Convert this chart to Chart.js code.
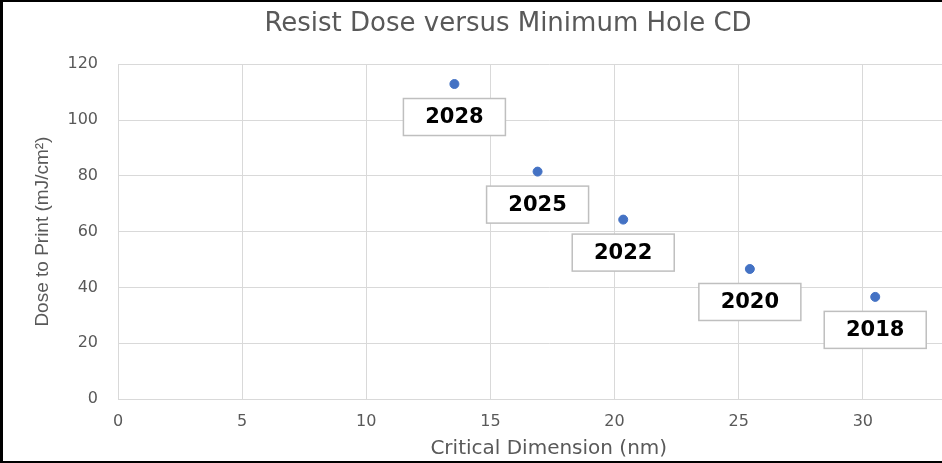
<!DOCTYPE html>
<html>
<head>
<meta charset="utf-8">
<script src="https://cdn.jsdelivr.net/npm/chart.js@4"></script>
<style>
  html, body { margin: 0; padding: 0; background: #fff; overflow: hidden; }
  #wrap {
    width: 939px; height: 459px; overflow: hidden;
    border-top: 2px solid #000; border-bottom: 2px solid #000; border-left: 3px solid #000;
    background: #fff;
  }
  canvas { display: block; }
</style>
</head>
<body>
<div id="wrap"><canvas id="myChart" width="982" height="459"></canvas></div>
<script>
const years = ['2028', '2025', '2022', '2020', '2018'];
const cdValues = [13.55, 16.9, 20.35, 25.45, 30.5];
const doseValues = [112.9, 81.5, 64.3, 46.6, 36.6];
const xTicks = [0, 5, 10, 15, 20, 25, 30];
const yTicks = [0, 20, 40, 60, 80, 100, 120];

const grey = '#595959';
const gridGrey = '#d9d9d9';

/* year labels in boxes under each point */
const yearBoxes = {
  id: 'yearBoxes',
  afterDatasetsDraw(chart) {
    const { ctx } = chart;
    const meta = chart.getDatasetMeta(0);
    ctx.save();
    ctx.font = 'bold 21px "DejaVu Sans"';
    ctx.textAlign = 'center';
    ctx.textBaseline = 'middle';
    meta.data.forEach((pt, i) => {
      const cx = pt.x;
      const cy = pt.y + 33;
      const w = 102, h = 37;
      ctx.fillStyle = '#fff';
      ctx.fillRect(cx - w / 2, cy - h / 2, w, h);
      ctx.strokeStyle = '#bfbfbf';
      ctx.lineWidth = 1.5;
      ctx.strokeRect(cx - w / 2, cy - h / 2, w, h);
      ctx.fillStyle = '#000';
      ctx.fillText(years[i], cx, cy + 1);
    });
    ctx.restore();
  },
};

const ctx = document.getElementById('myChart');

new Chart(ctx, {
  type: 'scatter',
  data: {
    datasets: [
      {
        label: 'Dose',
        data: cdValues.map((x, i) => ({ x: x, y: doseValues[i] })),
        backgroundColor: '#4472c4',
        borderColor: '#4472c4',
        pointRadius: 4.5,
      },
    ],
  },
  options: {
    responsive: false,
    animation: false,
    layout: { padding: { left: 28, right: 0, top: 0, bottom: 0 } },
    plugins: {
      legend: { display: false },
      tooltip: { enabled: false },
      title: {
        display: true,
        text: 'Resist Dose versus Minimum Hole CD',
        color: grey,
        font: { family: '"DejaVu Sans"', size: 26, weight: 'normal' },
        padding: { top: 7, bottom: 24 },
      },
    },
    scales: {
      x: {
        type: 'linear',
        min: 0,
        max: 34.7,
        afterFit: (s) => { s.height = 62; },
        afterBuildTicks: (s) => { s.ticks = xTicks.map((v) => ({ value: v })); },
        grid: { color: gridGrey, drawTicks: false },
        border: { color: gridGrey },
        ticks: {
          color: grey,
          padding: 13,
          font: { family: '"DejaVu Sans"', size: 16 },
        },
        title: {
          display: true,
          text: 'Critical Dimension (nm)',
          color: grey,
          font: { family: '"DejaVu Sans"', size: 20 },
          padding: { top: 0, bottom: 0 },
        },
      },
      y: {
        min: 0,
        max: 120,
        afterFit: (s) => { s.width = 87; },
        afterBuildTicks: (s) => { s.ticks = yTicks.map((v) => ({ value: v })); },
        grid: { color: gridGrey, drawTicks: false },
        border: { color: gridGrey },
        ticks: {
          color: grey,
          padding: 20,
          font: { family: '"DejaVu Sans"', size: 16 },
        },
        title: {
          display: true,
          text: 'Dose to Print (mJ/cm²)',
          color: grey,
          font: { family: '"Liberation Sans Narrow", "Liberation Sans"', size: 19 },
          padding: { top: 0, bottom: 0 },
        },
      },
    },
  },
  plugins: [yearBoxes],
});
</script>
</body>
</html>
